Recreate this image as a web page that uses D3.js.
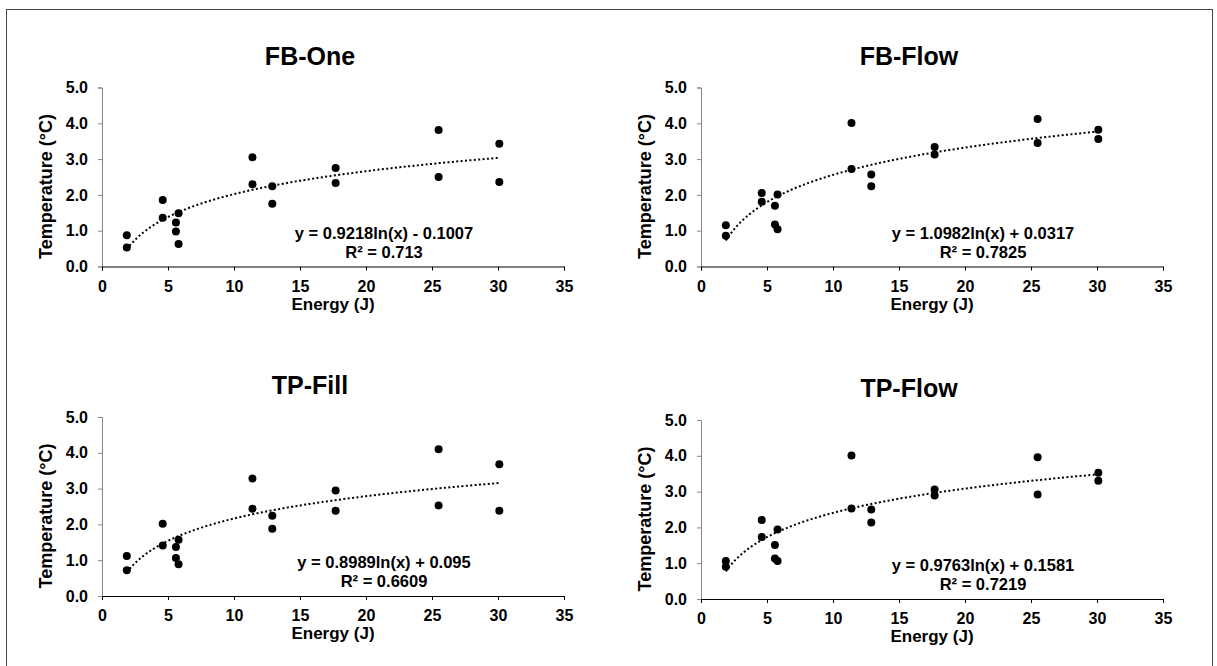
<!DOCTYPE html>
<html>
<head>
<meta charset="utf-8">
<script src="https://cdn.jsdelivr.net/npm/d3@7"></script>
<style>
  body { margin: 0; background: #fff; }
  svg { display: block; font-family: "Liberation Sans", Arial, sans-serif; font-weight: bold; }
</style>
</head>
<body>
<svg id="chart" width="1217" height="666"></svg>
<script>
// energies, two readings per energy level
const energy = [1.88, 1.88, 4.6, 4.6, 5.6, 5.6, 5.8, 5.8, 11.4, 11.4,
                12.9, 12.9, 17.7, 17.7, 25.5, 25.5, 30.1, 30.1];

const fbOne  = [0.87, 0.53, 1.86, 1.36, 1.23, 0.98, 1.49, 0.63, 3.05, 2.30,
                2.24, 1.75, 2.75, 2.33, 3.81, 2.50, 3.43, 2.36];
const fbFlow = [1.15, 0.86, 2.05, 1.81, 1.70, 1.17, 2.01, 1.04, 4.01, 2.72,
                2.57, 2.24, 3.34, 3.13, 4.12, 3.45, 3.82, 3.56];
const tpFill = [1.12, 0.72, 2.02, 1.41, 1.37, 1.06, 1.57, 0.89, 3.28, 2.44,
                2.24, 1.88, 2.95, 2.38, 4.10, 2.53, 3.68, 2.38];
const tpFlow = [1.06, 0.90, 2.21, 1.73, 1.51, 1.13, 1.94, 1.06, 4.01, 2.53,
                2.50, 2.14, 3.06, 2.89, 3.96, 2.92, 3.53, 3.30];

const titles = ["FB-One", "FB-Flow", "TP-Fill", "TP-Flow"];
const series = [fbOne, fbFlow, tpFill, tpFlow];
// log trendline coefficients as printed: y = a ln(x) + b
const coefA = [0.9218, 1.0982, 0.8989, 0.9763];
const coefB = [-0.1007, 0.0317, 0.095, 0.1581];
const eqText = ["y = 0.9218ln(x) - 0.1007", "y = 1.0982ln(x) + 0.0317",
                "y = 0.8989ln(x) + 0.095", "y = 0.9763ln(x) + 0.1581"];
const r2Text = ["R\u00b2 = 0.713", "R\u00b2 = 0.7825", "R\u00b2 = 0.6609", "R\u00b2 = 0.7219"];

const xTicks = [0, 5, 10, 15, 20, 25, 30, 35];
const yTicks = [0, 1, 2, 3, 4, 5];

// panel placement (plot area)
const panelPos = [[102, 87.5], [701, 87.5], [102, 417], [701, 420]];
const pw = 462, ph = 179;

const svg = d3.select("#chart");
svg.append("rect").attr("width", 1217).attr("height", 666).attr("fill", "#fff");
svg.append("rect")
  .attr("x", 6.5).attr("y", 9.5).attr("width", 1206).attr("height", 700)
  .attr("fill", "none").attr("stroke", "#444").attr("stroke-width", 1);

series.forEach((vals, i) => {
  const [left, top] = panelPos[i];
  const g = svg.append("g").attr("transform", `translate(${left},${top})`);

  const x = d3.scaleLinear().domain([0, 35]).range([0, pw]);
  const y = d3.scaleLinear().domain([0, 5]).range([ph, 0]);

  // y axis
  const ya = g.append("g")
    .call(d3.axisLeft(y).tickValues(yTicks).tickFormat(d3.format(".1f")).tickSizeOuter(0).tickSize(4).tickPadding(10));
  ya.select(".domain").attr("stroke", "#888");
  ya.selectAll(".tick line").attr("stroke", "#888");
  ya.selectAll("text").attr("font-size", 16).attr("font-family", null).attr("fill", "#000");

  // x axis
  const xa = g.append("g").attr("transform", `translate(0,${ph})`)
    .call(d3.axisBottom(x).tickValues(xTicks).tickSizeOuter(0).tickSize(4).tickPadding(10));
  xa.select(".domain").attr("stroke", "#000");
  xa.selectAll(".tick line").attr("stroke", "#000");
  xa.selectAll("text").attr("font-size", 16).attr("font-family", null).attr("fill", "#000");

  // trendline
  const [x0, x1] = d3.extent(energy);
  const pts = d3.range(0, 101).map(k => x0 + (x1 - x0) * k / 100);
  g.append("path")
    .datum(pts)
    .attr("fill", "none")
    .attr("stroke", "#000")
    .attr("stroke-width", 2)
    .attr("stroke-dasharray", "2,2.4")
    .attr("d", d3.line().x(d => x(d)).y(d => y(coefA[i] * Math.log(d) + coefB[i])));

  // points
  g.selectAll("circle")
    .data(vals)
    .join("circle")
    .attr("cx", (d, k) => x(energy[k]))
    .attr("cy", d => y(d))
    .attr("r", 4)
    .attr("fill", "#000");

  // title
  g.append("text")
    .attr("x", 208).attr("y", -23)
    .attr("text-anchor", "middle")
    .attr("font-size", 25)
    .text(titles[i]);

  // axis titles
  g.append("text")
    .attr("x", pw / 2).attr("y", ph + 43)
    .attr("text-anchor", "middle")
    .attr("font-size", 17)
    .text("Energy (J)");
  g.append("text")
    .attr("transform", `translate(${-50},${99}) rotate(-90)`)
    .attr("text-anchor", "middle")
    .attr("font-size", 18)
    .text("Temperature (\u00b0C)");

  // equation
  g.append("text")
    .attr("x", 282).attr("y", 151)
    .attr("text-anchor", "middle")
    .attr("font-size", 16.5)
    .text(eqText[i]);
  g.append("text")
    .attr("x", 282).attr("y", 170)
    .attr("text-anchor", "middle")
    .attr("font-size", 16.5)
    .text(r2Text[i]);
});
</script>
</body>
</html>
